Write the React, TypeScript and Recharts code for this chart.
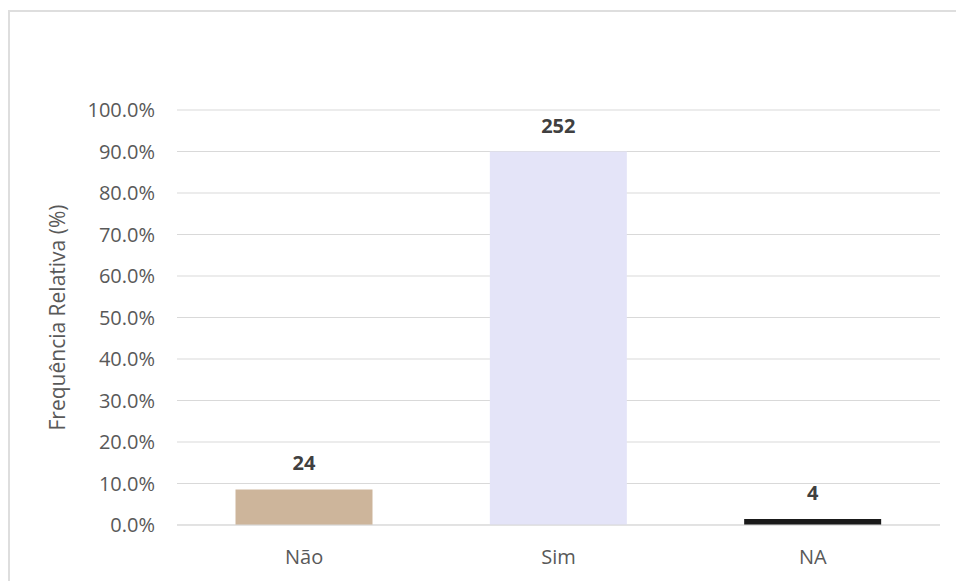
import { Bar, BarChart, CartesianGrid, Cell, LabelList, XAxis, YAxis } from "recharts";

const categories = ["Não", "Sim", "NA"];
const counts = [24, 252, 4];
const relativeFreq = [0.0857, 0.9, 0.0143];
const barColors = ["#CDB59B", "#E4E4F8", "#1A1A1A"];
const yTicks = [0, 0.1, 0.2, 0.3, 0.4, 0.5, 0.6, 0.7, 0.8, 0.9, 1.0];

const data = categories.map((name, i) => ({ name, count: counts[i], share: relativeFreq[i] }));

const font = "Open Sans, sans-serif";

export default function App() {
  return (
    <div style={{ position: "absolute", left: 0, top: 0, width: 956, height: 581, overflow: "hidden", background: "#fff" }}>
      {/* chart frame, only top and left edges are visible */}
      <div
        style={{
          position: "absolute",
          left: 8,
          top: 10,
          right: 0,
          bottom: 0,
          borderTop: "2px solid #dedede",
          borderLeft: "2px solid #dedede",
        }}
      />
      <div style={{ position: "absolute", left: 0, top: 0 }}>
        <BarChart
          width={956}
          height={581}
          data={data}
          margin={{ top: 110, right: 16, bottom: 26, left: 0 }}
          barCategoryGap="23%"
        >
          <CartesianGrid vertical={false} stroke="#d9d9d9" />
          <XAxis
            dataKey="name"
            height={30}
            tickLine={false}
            axisLine={{ stroke: "#d9d9d9" }}
            tickSize={0}
            tickMargin={25}
            tick={{ fill: "#595959", fontSize: 20, fontFamily: font }}
          />
          <YAxis
            width={177}
            domain={[0, 1]}
            ticks={yTicks}
            tickFormatter={(v: number) => `${(v * 100).toFixed(1)}%`}
            tickLine={false}
            axisLine={false}
            tickSize={0}
            tickMargin={22}
            tick={{ fill: "#595959", fontSize: 20, fontFamily: font }}
            label={{
              value: "Frequência Relativa (%)",
              angle: -90,
              position: "insideLeft",
              offset: 58,
              style: { textAnchor: "middle", fill: "#595959", fontSize: 21, fontFamily: font },
            }}
          />
          <Bar dataKey="share" isAnimationActive={false}>
            {data.map((d, i) => (
              <Cell key={d.name} fill={barColors[i]} />
            ))}
            <LabelList
              dataKey="count"
              position="top"
              offset={19}
              style={{ fill: "#404040", fontSize: 20, fontWeight: 700, fontFamily: font }}
            />
          </Bar>
        </BarChart>
      </div>
    </div>
  );
}
